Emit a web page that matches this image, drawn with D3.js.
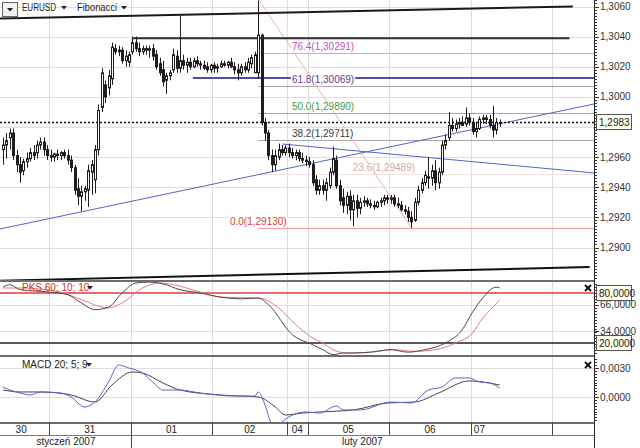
<!DOCTYPE html>
<html>
<head>
<meta charset="utf-8">
<title>EURUSD Fibonacci</title>
<script src="https://d3js.org/d3.v7.min.js"></script>
<style>
  body { margin: 0; background: #fff; }
  svg { display: block; font-family: "Liberation Sans", Arial, sans-serif; font-size: 10px; }
</style>
</head>
<body>
<svg id="chart" width="640" height="448"></svg>
<script>
// hourly EURUSD bars, 30 Jan - 07 Feb 2007 : [open, high, low, close]
var candles = [
  [1.2965,1.2973,1.2955,1.2968],[1.2968,1.2976,1.2959,1.2971],[1.2973,1.2979,1.2965,1.2976],[1.2976,1.2979,1.2958,1.2961],
  [1.2961,1.2965,1.2950,1.2955],[1.2955,1.2960,1.2943,1.2950],[1.2951,1.2959,1.2948,1.2957],[1.2957,1.2963,1.2953,1.2959],
  [1.2959,1.2966,1.2957,1.2963],[1.2963,1.2968,1.2958,1.2961],[1.2963,1.2971,1.2959,1.2968],[1.2968,1.2973,1.2965,1.2970],
  [1.2970,1.2973,1.2961,1.2965],[1.2965,1.2968,1.2958,1.2961],
  // 31
  [1.2961,1.2965,1.2957,1.2960],[1.2960,1.2963,1.2957,1.2962],[1.2962,1.2965,1.2958,1.2961],[1.2961,1.2964,1.2958,1.2963],
  [1.2963,1.2965,1.2959,1.2961],[1.2961,1.2965,1.2955,1.2958],[1.2958,1.2961,1.2950,1.2953],[1.2953,1.2955,1.2935,1.2938],
  [1.2939,1.2946,1.2928,1.2934],[1.2934,1.2941,1.2924,1.2937],[1.2937,1.2941,1.2931,1.2939],[1.2938,1.2955,1.2927,1.2951],
  [1.2950,1.2958,1.2935,1.2955],[1.2945,1.2968,1.2936,1.2965],[1.2965,1.2995,1.2961,1.2991],[1.2993,1.3019,1.2990,1.3016],
  [1.3008,1.3011,1.2996,1.3000],[1.3006,1.3018,1.3001,1.3014],[1.3012,1.3036,1.3008,1.3033],[1.3032,1.3035,1.3028,1.3030],
  [1.3031,1.3034,1.3027,1.3030],[1.3031,1.3033,1.3022,1.3024],[1.3024,1.3031,1.3020,1.3027],[1.3023,1.3030,1.3020,1.3028],
  // 01
  [1.3030,1.3040,1.3028,1.3036],[1.3036,1.3040,1.3030,1.3032],[1.3032,1.3036,1.3027,1.3030],[1.3030,1.3034,1.3028,1.3032],
  [1.3032,1.3034,1.3028,1.3031],[1.3031,1.3034,1.3026,1.3032],[1.3032,1.3035,1.3024,1.3027],[1.3028,1.3031,1.3018,1.3020],
  [1.3022,1.3026,1.3014,1.3016],[1.3018,1.3024,1.3007,1.3010],[1.3011,1.3016,1.3002,1.3014],[1.3014,1.3018,1.3011,1.3016],
  [1.3018,1.3032,1.3016,1.3028],[1.3027,1.3031,1.3016,1.3019],[1.3019,1.3054,1.3016,1.3024],[1.3024,1.3028,1.3018,1.3021],
  [1.3021,1.3026,1.3016,1.3023],[1.3023,1.3026,1.3018,1.3020],[1.3020,1.3026,1.3019,1.3024],[1.3024,1.3027,1.3020,1.3022],
  [1.3022,1.3024,1.3018,1.3021],[1.3021,1.3024,1.3018,1.3019],[1.3020,1.3023,1.3016,1.3018],[1.3018,1.3022,1.3016,1.3021],
  // 02
  [1.3021,1.3023,1.3016,1.3019],[1.3019,1.3022,1.3016,1.3020],[1.3020,1.3024,1.3019,1.3022],[1.3022,1.3024,1.3020,1.3021],
  [1.3021,1.3024,1.3019,1.3023],[1.3023,1.3026,1.3019,1.3020],[1.3020,1.3023,1.3015,1.3018],[1.3018,1.3022,1.3011,1.3016],
  [1.3016,1.3022,1.3014,1.3020],[1.3020,1.3023,1.3016,1.3018],[1.3018,1.3026,1.3016,1.3023],[1.3022,1.3028,1.3019,1.3026],
  [1.3016,1.3030,1.3016,1.3028],[1.3016,1.3064,1.3012,1.3041],[1.3041,1.3042,1.2981,1.2983],[1.2983,1.2986,1.2971,1.2976],
  [1.2976,1.2978,1.2958,1.2961],[1.2961,1.2965,1.2950,1.2955],[1.2955,1.2965,1.2951,1.2961],[1.2960,1.2969,1.2958,1.2965],
  [1.2965,1.2968,1.2961,1.2963],[1.2963,1.2968,1.2961,1.2966],
  // 04
  [1.2966,1.2969,1.2960,1.2963],[1.2963,1.2966,1.2959,1.2961],[1.2961,1.2965,1.2958,1.2963],[1.2963,1.2965,1.2957,1.2959],
  [1.2959,1.2963,1.2956,1.2958],[1.2958,1.2961,1.2954,1.2957],
  // 05
  [1.2957,1.2960,1.2953,1.2955],[1.2955,1.2958,1.2941,1.2943],[1.2945,1.2948,1.2935,1.2938],[1.2938,1.2945,1.2935,1.2941],
  [1.2941,1.2945,1.2935,1.2938],[1.2938,1.2946,1.2931,1.2943],[1.2941,1.2953,1.2939,1.2950],[1.2950,1.2967,1.2948,1.2959],
  [1.2958,1.2961,1.2939,1.2941],[1.2941,1.2945,1.2928,1.2931],[1.2933,1.2939,1.2923,1.2928],[1.2928,1.2937,1.2922,1.2934],
  [1.2934,1.2938,1.2918,1.2925],[1.2925,1.2935,1.2914,1.2931],[1.2931,1.2935,1.2920,1.2926],[1.2926,1.2933,1.2922,1.2930],
  [1.2930,1.2934,1.2927,1.2931],[1.2931,1.2933,1.2927,1.2929],[1.2929,1.2932,1.2926,1.2928],[1.2928,1.2931,1.2925,1.2927],
  [1.2927,1.2931,1.2926,1.2930],[1.2930,1.2933,1.2927,1.2931],[1.2931,1.2935,1.2928,1.2933],[1.2933,1.2935,1.2929,1.2932],
  // 06
  [1.2932,1.2935,1.2929,1.2933],[1.2933,1.2935,1.2927,1.2929],[1.2929,1.2933,1.2926,1.2928],[1.2928,1.2931,1.2924,1.2925],
  [1.2925,1.2928,1.2922,1.2924],[1.2924,1.2927,1.2917,1.2920],[1.2920,1.2924,1.2913,1.2917],[1.2918,1.2933,1.2917,1.2930],
  [1.2930,1.2941,1.2928,1.2938],[1.2938,1.2946,1.2936,1.2943],[1.2943,1.2951,1.2941,1.2948],[1.2947,1.2960,1.2939,1.2946],
  [1.2946,1.2955,1.2941,1.2951],[1.2951,1.2958,1.2938,1.2943],[1.2943,1.2953,1.2939,1.2950],[1.2950,1.2971,1.2948,1.2968],
  [1.2968,1.2975,1.2965,1.2971],[1.2973,1.2990,1.2971,1.2981],[1.2981,1.2986,1.2977,1.2979],[1.2979,1.2985,1.2977,1.2982],
  [1.2982,1.2986,1.2979,1.2983],[1.2983,1.2987,1.2981,1.2981],[1.2982,1.2993,1.2980,1.2986],[1.2986,1.2989,1.2981,1.2983],
  // 07
  [1.2983,1.2986,1.2975,1.2977],[1.2977,1.2983,1.2973,1.2979],[1.2979,1.2987,1.2978,1.2985],[1.2985,1.2988,1.2982,1.2986],
  [1.2986,1.2988,1.2982,1.2985],[1.2985,1.2988,1.2979,1.2981],[1.2981,1.2994,1.2973,1.2978],[1.2978,1.2986,1.2975,1.2983],
  [1.2983,1.2985,1.2980,1.2983]
];

var dayLabels = ["30", "31", "01", "02", "04", "05", "06", "07", ""];
var dayStarts = [0, 14, 38, 62, 84, 90, 114, 138, 162];
var monthLabels = ["styczeń 2007", "luty 2007"];
var monthStarts = [0, 38];

var priceTicks = [1.2900, 1.2920, 1.2940, 1.2960, 1.2980, 1.3000, 1.3020, 1.3040, 1.3060];
var priceLabels = [1.2900, 1.2920, 1.2940, 1.2960, 1.3000, 1.3020, 1.3040, 1.3060];
var lastPrice = 1.2983;

// Fibonacci retracement from the 02 Feb spike high to the 06 Feb low
var fibLevels = [0.0, 23.6, 38.2, 50.0, 61.8, 76.4];
var fibPrices = [1.29130, 1.29489, 1.29711, 1.29890, 1.30069, 1.30291];
var fibHigh = 1.30651;
var fibBars = [75.5, 120.5];

// hand drawn lines: [bar, price] end points
var topLine = [[-0.4, 1.3052], [168, 1.3060]];
var resistLine = [[38.4, 1.3039], [167, 1.3039]];
var blueLevel = [[56.3, 1.30125], [174.2, 1.30125]];
var bottomLine = [[-0.4, 1.2878], [172.9, 1.2887]];
var supportLine = [[-0.4, 1.29123], [174.2, 1.29953]];
var downLine = [[82.7, 1.29687], [174.2, 1.29495]];

// PKS 60;10;10 : [bar, value]
var stochK = [[0,87],[2,90],[5,84],[14,81],[19,78],[23,68],[27,60],[31,63],[35,80],[39,92],[43,93],[47,91],
  [52,84],[58,80],[64,75],[70,73],[75,74],[78,66],[85,30],[91,18],[94,12],[97,6],[100,8],[103,8],[108,9],
  [114,12],[119,9],[124,12],[130,20],[135,36],[138,57],[141,74],[144,86],[145,87],[146,86]];
var stochD = [[0,86],[5,86],[17,81],[23,72],[31,62],[35,68],[41,86],[46,92],[50,90],[58,81],[64,75],[75,74],
  [81,62],[86,42],[91,26],[94,20],[97,12],[101,8],[108,9],[115,12],[121,10],[127,12],[133,20],[138,32],
  [141,50],[144,63],[146,72]];
var stochTicks = [66, 34];
var stochBands = [80, 20];

// MACD 20;5;9 : [bar, value]
var macdLine = [[0,0.00103],[2,0.00072],[5,0.00041],[8,0.00021],[11,0.00052],[17,0.00041],[20,0.0000],
  [24,-0.00103],[27,-0.00052],[31,0.00155],[34,0.00331],[37,0.00300],[41,0.00248],[44,0.00155],[47,0.00072],
  [52,0.00072],[58,0.00041],[68,0.00010],[74,0.00010],[75,0.00052],[77,-0.00083],[79,-0.00290],[80,-0.00330],
  [82,-0.00260],[84,-0.00207],[89,-0.00155],[93,-0.00166],[98,-0.00093],[100,-0.00134],[105,-0.00134],
  [114,-0.00052],[120,-0.00062],[125,0.00072],[129,0.00103],[133,0.00197],[137,0.00197],[140,0.00155],
  [143,0.00145],[146,0.00093]];
var signalLine = [[0,0.00072],[5,0.00052],[11,0.00052],[20,0.00021],[27,-0.00052],[32,0.00124],[38,0.00259],
  [41,0.00248],[47,0.00145],[52,0.00072],[64,0.00021],[75,0.0000],[80,-0.00103],[83,-0.00186],[88,-0.00166],
  [93,-0.00155],[103,-0.00134],[113,-0.00062],[121,-0.00052],[128,0.00041],[137,0.00166],[143,0.00145],
  [146,0.00124]];
var macdTicks = [0.0030, 0.0000];

var svg = d3.select("#chart");
var W = 594;
var loc = d3.formatLocale({decimal: ",", thousands: " ", grouping: [3], currency: ["", ""]});
var f4 = loc.format(".4f"), f5 = loc.format(".5f");

var x = d3.scaleLinear().domain([-0.4, 174.2]).range([0, W]);
var y = d3.scaleLinear().domain([1.2900, 1.3060]).range([247.5, 6.5]);
var yS = d3.scaleLinear().domain([20, 80]).range([343, 293]);
var yM = d3.scaleLinear().domain([0, 0.003]).range([397, 368]);

var panels = [["main", 0, 280], ["stoch", 282, 355], ["macd", 357, 422]];
var defs = svg.append("defs");
panels.forEach(function(p) {
  defs.append("clipPath").attr("id", "clip-" + p[0])
    .append("rect").attr("x", 0).attr("y", p[1]).attr("width", W).attr("height", p[2] - p[1]);
});

var grid = svg.append("g").attr("stroke", "#dedede").attr("shape-rendering", "crispEdges");
// vertical day grid through all panels
grid.selectAll("line.v").data(dayStarts.slice(1)).enter().append("line")
  .attr("x1", function(d) { return Math.round(x(d)) + 0.5; })
  .attr("x2", function(d) { return Math.round(x(d)) + 0.5; })
  .attr("y1", 0).attr("y2", 422);
grid.selectAll("line.h").data(priceTicks).enter().append("line")
  .attr("x1", 0).attr("x2", W)
  .attr("y1", function(d) { return Math.round(y(d)) + 0.5; })
  .attr("y2", function(d) { return Math.round(y(d)) + 0.5; });
grid.selectAll("line.s").data(stochTicks).enter().append("line")
  .attr("x1", 0).attr("x2", W)
  .attr("y1", function(d) { return Math.round(yS(d)) + 0.5; })
  .attr("y2", function(d) { return Math.round(yS(d)) + 0.5; });
grid.selectAll("line.m").data(macdTicks).enter().append("line")
  .attr("x1", 0).attr("x2", W)
  .attr("y1", function(d) { return Math.round(yM(d)) + 0.5; })
  .attr("y2", function(d) { return Math.round(yM(d)) + 0.5; });

// ---------- main panel ----------
var main = svg.append("g").attr("clip-path", "url(#clip-main)");
var seg = function(pts) { return d3.line().x(function(d) { return x(d[0]); }).y(function(d) { return y(d[1]); })(pts); };

// fibonacci levels
var fibLine = ["#f29a9a", "#f2e2e2", "#a8a8a8", "#a8a8a8", "#a8a8a8", "#e49ae4"];
var fibText = ["#e03c3c", "#d4a6a6", "#3a3a3a", "#3e9e3e", "#6a3a8a", "#c64cc6"];
var fibLabelBar = [67.2, 103.3, 85.4, 85.4, 85.4, 85.4];
fibPrices.forEach(function(p, k) {
  var yy = Math.round(y(p)) + 0.5;
  main.append("line").attr("x1", x(fibBars[0])).attr("x2", W).attr("y1", yy).attr("y2", yy)
    .attr("stroke", fibLine[k]).attr("stroke-width", 1);
});
main.append("path").attr("d", seg([[fibBars[0], fibHigh], [fibBars[1], fibPrices[0]]]))
  .attr("stroke", "#f0b0b0").attr("fill", "none");

main.append("path").attr("d", seg(topLine)).attr("stroke", "#1a1a1a").attr("stroke-width", 2).attr("fill", "none");
main.append("path").attr("d", seg(resistLine)).attr("stroke", "#2e2e2e").attr("stroke-width", 2).attr("fill", "none");
main.append("path").attr("d", seg(blueLevel)).attr("stroke", "#4a50a0").attr("stroke-width", 2).attr("fill", "none");
main.append("path").attr("d", seg(bottomLine)).attr("stroke", "#111").attr("stroke-width", 2).attr("fill", "none");
main.append("path").attr("d", seg(supportLine)).attr("stroke", "#5563cc").attr("stroke-width", 1).attr("fill", "none");
main.append("path").attr("d", seg(downLine)).attr("stroke", "#5563cc").attr("stroke-width", 1).attr("fill", "none");

// fib labels sit on a white patch, like the platform draws them
fibPrices.forEach(function(p, k) {
  var yy = Math.round(y(p)) + 0.5;
  var t = main.append("text").attr("x", x(fibLabelBar[k])).attr("y", yy - 3.5)
    .attr("fill", fibText[k]).text(fibLevels[k].toFixed(1) + "(" + f5(p) + ")");
  var bb = t.node().getBBox();
  main.insert("rect", function() { return t.node(); })
    .attr("x", bb.x - 1).attr("y", bb.y + 1).attr("width", bb.width + 2).attr("height", bb.height - 2)
    .attr("fill", "#fff");
});

// candles
var bars = main.append("g").selectAll("g").data(candles).enter().append("g");
bars.append("line")
  .attr("x1", function(d, i) { return Math.round(x(i + 0.5)) + 0.5; })
  .attr("x2", function(d, i) { return Math.round(x(i + 0.5)) + 0.5; })
  .attr("y1", function(d) { return y(d[1]); })
  .attr("y2", function(d) { return y(d[2]); })
  .attr("stroke", "#1e1e1e");
bars.append("rect")
  .attr("x", function(d, i) { return Math.round(x(i + 0.5)) - 0.5; })
  .attr("width", 2)
  .attr("y", function(d) { return y(Math.max(d[0], d[3])); })
  .attr("height", function(d) { return Math.max(1, Math.abs(y(d[0]) - y(d[3]))); })
  .attr("fill", function(d) { return d[3] >= d[0] ? "#fff" : "#1e1e1e"; })
  .attr("stroke", "#1e1e1e").attr("stroke-width", 1);

// current price
main.append("line").attr("x1", 0).attr("x2", W)
  .attr("y1", Math.round(y(lastPrice)) + 0.5).attr("y2", Math.round(y(lastPrice)) + 0.5)
  .attr("stroke", "#111").attr("stroke-width", 1.5).attr("stroke-dasharray", "2,2");

// ---------- stochastic ----------
var st = svg.append("g").attr("clip-path", "url(#clip-stoch)");
stochBands.forEach(function(v, k) {
  st.append("line").attr("x1", 0).attr("x2", W).attr("y1", yS(v)).attr("y2", yS(v))
    .attr("stroke", k === 0 ? "#e23a3a" : "#222").attr("stroke-width", 1.5);
});
var sLine = d3.line().curve(d3.curveMonotoneX).x(function(d) { return x(d[0] + 0.5); }).y(function(d) { return yS(d[1]); });
st.append("path").attr("d", sLine(stochD)).attr("stroke", "#e87a7a").attr("fill", "none");
st.append("path").attr("d", sLine(stochK)).attr("stroke", "#4a4a4a").attr("fill", "none");

// ---------- MACD ----------
var md = svg.append("g").attr("clip-path", "url(#clip-macd)");
var mLine = d3.line().curve(d3.curveMonotoneX).x(function(d) { return x(d[0] + 0.5); }).y(function(d) { return yM(d[1]); });
md.append("path").attr("d", mLine(signalLine)).attr("stroke", "#444").attr("fill", "none");
md.append("path").attr("d", mLine(macdLine)).attr("stroke", "#5a64d0").attr("fill", "none");

// ---------- frames ----------
var frame = svg.append("g").attr("shape-rendering", "crispEdges");
[280.5, 356, 422.5].forEach(function(yy) {
  frame.append("line").attr("x1", 0).attr("x2", W).attr("y1", yy).attr("y2", yy)
    .attr("stroke", "#6e6e6e").attr("stroke-width", 2);
});
frame.append("line").attr("x1", 0).attr("x2", W).attr("y1", 435.5).attr("y2", 435.5).attr("stroke", "#777");
frame.append("line").attr("x1", W + 0.5).attr("x2", W + 0.5).attr("y1", 0).attr("y2", 448).attr("stroke", "#222");

// right axis ruler
var ruler = frame.append("g").attr("stroke", "#333");
d3.range(1.2880, 1.30661, 0.0002).forEach(function(p) {
  ruler.append("line").attr("x1", W).attr("x2", W + 3).attr("y1", Math.round(y(p)) + 0.5).attr("y2", Math.round(y(p)) + 0.5);
});
d3.range(1, 99, 3.6).forEach(function(v) {
  var yy = Math.round(yS(v)) + 0.5;
  if (yy > 282 && yy < 355) ruler.append("line").attr("x1", W).attr("x2", W + 3).attr("y1", yy).attr("y2", yy);
});
d3.range(-0.0027, 0.0042, 0.0003).forEach(function(v) {
  var yy = Math.round(yM(v)) + 0.5;
  if (yy > 358 && yy < 422) ruler.append("line").attr("x1", W).attr("x2", W + 3).attr("y1", yy).attr("y2", yy);
});

var axT = svg.append("g").attr("fill", "#333");
priceLabels.forEach(function(p) {
  axT.append("line").attr("x1", W).attr("x2", W + 5).attr("y1", Math.round(y(p)) + 0.5).attr("y2", Math.round(y(p)) + 0.5).attr("stroke", "#333");
  axT.append("text").attr("x", W + 6).attr("y", y(p) + 3.5).text(f4(p));
});
stochTicks.forEach(function(v) {
  axT.append("line").attr("x1", W).attr("x2", W + 5).attr("y1", Math.round(yS(v)) + 0.5).attr("y2", Math.round(yS(v)) + 0.5).attr("stroke", "#333");
  axT.append("text").attr("x", W + 6).attr("y", yS(v) + 3.5).text(f4(v));
});
macdTicks.forEach(function(v) {
  axT.append("line").attr("x1", W).attr("x2", W + 5).attr("y1", Math.round(yM(v)) + 0.5).attr("y2", Math.round(yM(v)) + 0.5).attr("stroke", "#333");
  axT.append("text").attr("x", W + 6).attr("y", yM(v) + 3.5).text(f4(v));
});
function tag(yy, txt) {
  axT.append("rect").attr("x", W + 2.5).attr("y", Math.round(yy) - 7.5).attr("width", 35).attr("height", 15)
    .attr("fill", "#ffffea").attr("stroke", "#555");
  axT.append("text").attr("x", W + 5).attr("y", yy + 3.5).attr("fill", "#222").text(txt);
}
tag(y(lastPrice), f4(lastPrice));
stochBands.forEach(function(v) { tag(yS(v), f4(v)); });

// date axis
var ax = svg.append("g").attr("shape-rendering", "crispEdges");
dayStarts.slice(1).forEach(function(d) {
  ax.append("line").attr("x1", Math.round(x(d)) + 0.5).attr("x2", Math.round(x(d)) + 0.5)
    .attr("y1", 422).attr("y2", monthStarts.indexOf(d) >= 0 ? 448 : 435).attr("stroke", "#444");
});
dayLabels.forEach(function(lab, k) {
  var a = Math.max(0, x(dayStarts[k])), b = k + 1 < dayStarts.length ? x(dayStarts[k + 1]) : W;
  var last = k === dayLabels.length - 2;
  svg.append("text").attr("x", last ? a + 3 : (k === 0 ? (a + b) / 2 - 4 : (a + b) / 2)).attr("y", 433)
    .attr("text-anchor", last ? "start" : "middle").attr("fill", "#222").text(lab);
});
monthLabels.forEach(function(lab, k) {
  var a = Math.max(0, x(monthStarts[k])), b = k + 1 < monthStarts.length ? x(monthStarts[k + 1]) : W;
  svg.append("text").attr("x", (a + b) / 2).attr("y", 445).attr("text-anchor", "middle").attr("fill", "#222").text(lab);
});

// header and panel titles
function tri(g, cx, cy) {
  g.append("path").attr("d", "M" + (cx - 3) + "," + (cy - 1.5) + "h6l-3,3.5z").attr("fill", "#222");
}
var hd = svg.append("g");
hd.append("rect").attr("x", 2.5).attr("y", 2.5).attr("width", 15).attr("height", 14).attr("fill", "#f2f2f2").attr("stroke", "#666");
tri(hd, 10, 9.5);
hd.append("text").attr("x", 22).attr("y", 11).attr("fill", "#222")
  .attr("textLength", 34).attr("lengthAdjust", "spacingAndGlyphs").text("EURUSD");
tri(hd, 64, 7.5);
hd.append("text").attr("x", 77).attr("y", 11).attr("fill", "#222")
  .attr("textLength", 40).attr("lengthAdjust", "spacingAndGlyphs").text("Fibonacci");
tri(hd, 124, 7.5);
hd.append("text").attr("x", 22).attr("y", 291).attr("fill", "#d43030").text("PKS 60; 10; 10");
tri(hd, 90, 287.5);
hd.append("text").attr("x", 22).attr("y", 368).attr("fill", "#222").text("MACD 20; 5; 9");
tri(hd, 89, 364.5);
[288, 365].forEach(function(cy) {
  hd.append("path").attr("d", "M585," + (cy - 3) + "l6,6M591," + (cy - 3) + "l-6,6")
    .attr("stroke", "#111").attr("stroke-width", 2);
});
</script>
</body>
</html>
